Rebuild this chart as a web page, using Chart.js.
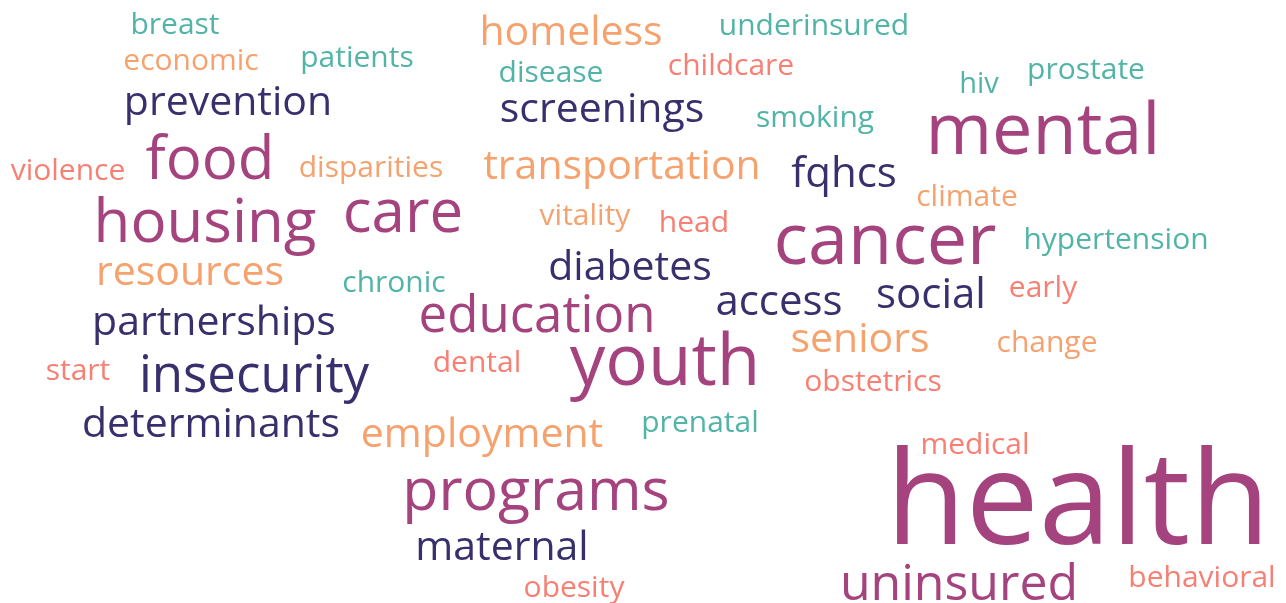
<!DOCTYPE html>
<html>
<head>
<meta charset="utf-8">
<script src="https://cdn.jsdelivr.net/npm/chart.js@4"></script>
<style>
  html, body { margin: 0; padding: 0; background: #ffffff; }
  #wrap { position: relative; width: 1286px; height: 603px; }
</style>
</head>
<body>
<div id="wrap"><canvas id="c"></canvas></div>
<script>
// Words of the cloud
const words = ["breast","economic","patients","prevention","food","violence","disparities","housing","care","resources",
  "chronic","partnerships","start","insecurity","determinants","homeless","underinsured","disease","childcare","screenings",
  "smoking","transportation","fqhcs","vitality","head","diabetes","education","access","social","dental",
  "youth","employment","prenatal","programs","maternal","obesity","hiv","prostate","mental","climate",
  "cancer","hypertension","early","seniors","change","obstetrics","medical","health","uninsured","behavioral"];
// Relative frequency (weight) of each word
const weights = [30,30,30,41,60,30,30,60,60,41,
  30,41,30,51,41,41,30,30,30,41,
  30,41,42,30,30,41,51,42,42,30,
  71,41,30,59,41,30,29,30,72,30,
  72,30,30,41,30,30,30,130,50,30];
// Colour group of each word (0 purple, 1 navy, 2 orange, 3 salmon, 4 teal)
const groups = [4,2,4,1,0,3,2,0,0,2,
  4,1,3,1,1,2,4,4,3,1,
  4,2,1,2,3,1,0,1,1,3,
  0,2,4,0,1,3,4,4,0,2,
  0,4,3,2,2,3,3,0,0,3];
// Cloud placement of each word (centre x, baseline y)
const layoutX = [175,191,357,228,210,68,371,205,403,190,
  394,214,78,254,211,571,814,551,731,602,
  815,622,844,585,694,630,537,779,931,477,
  665,482,700,536,502,574,979,1086,1043,967,
  885,1116,1043,860,1047,873,975,1078,959,1202];
const layoutY = [34,70,67,115,179,180,177,242,232,285,
  292,335,380,392,437,45,35,82,75,122,
  127,179,187,225,232,280,332,315,308,372,
  385,447,432,510,560,597,93,79,154,206,
  264,249,297,352,352,391,454,544,600,587];

const palette = ["#a5437f","#37306c","#f5a26e","#f77f73","#52b4a7"];
const FONT = "'Open Sans', sans-serif";

const wordPlugin = {
  id: 'wordText',
  afterDatasetsDraw(chart) {
    const ctx = chart.ctx;
    const xs = chart.scales.x, ys = chart.scales.y;
    const ds = chart.data.datasets[0];
    ctx.save();
    ctx.textAlign = 'center';
    ctx.textBaseline = 'alphabetic';
    ds.data.forEach((p) => {
      ctx.font = `400 ${p.w}px ${FONT}`;
      ctx.fillStyle = palette[p.g];
      ctx.fillText(p.t, xs.getPixelForValue(p.x), ys.getPixelForValue(p.y));
    });
    ctx.restore();
  }
};

const points = words.map((t, i) => ({ x: layoutX[i], y: layoutY[i], t: t, w: weights[i], g: groups[i] }));

new Chart(document.getElementById('c'), {
  type: 'scatter',
  data: { datasets: [{ data: points, pointRadius: 0, pointHoverRadius: 0 }] },
  options: {
    responsive: true,
    maintainAspectRatio: false,
    animation: false,
    layout: { padding: 0 },
    plugins: { legend: { display: false }, tooltip: { enabled: false } },
    scales: {
      x: { type: 'linear', min: 0, max: 1286, display: false },
      y: { type: 'linear', min: 0, max: 603, reverse: true, display: false }
    }
  },
  plugins: [wordPlugin]
});
</script>
</body>
</html>
